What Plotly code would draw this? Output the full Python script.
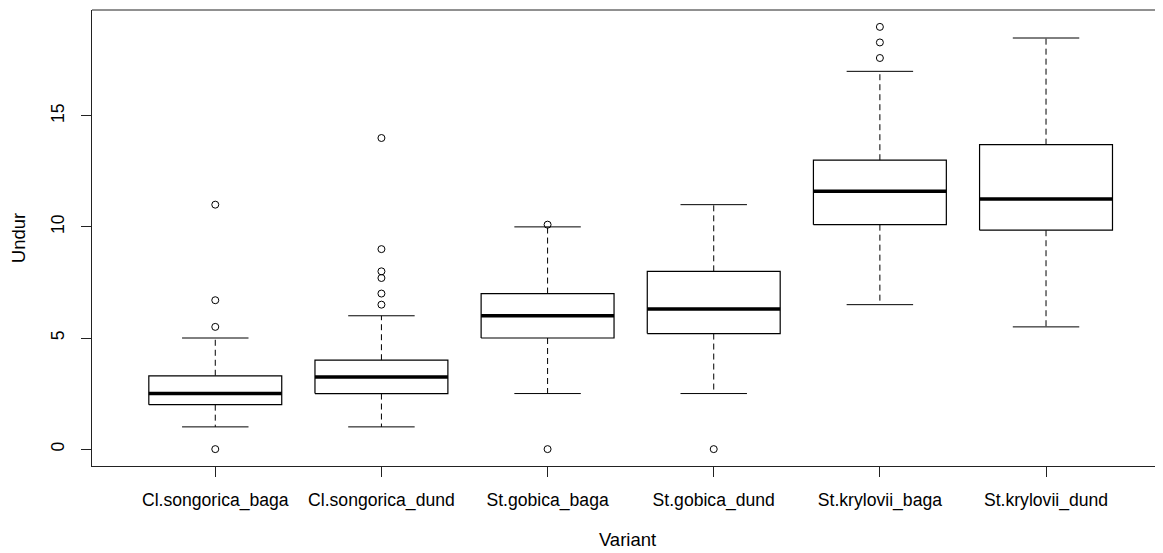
import plotly.graph_objects as go

categories = ["Cl.songorica_baga", "Cl.songorica_dund", "St.gobica_baga",
              "St.gobica_dund", "St.krylovii_baga", "St.krylovii_dund"]
lower_whisker = [1.0, 1.0, 2.5, 2.5, 6.5, 5.5]
q1 = [2.0, 2.5, 5.0, 5.2, 10.1, 9.85]
median = [2.5, 3.25, 6.0, 6.3, 11.6, 11.25]
q3 = [3.3, 4.0, 7.0, 8.0, 13.0, 13.7]
upper_whisker = [5.0, 6.0, 10.0, 11.0, 17.0, 18.5]
outliers = [[0.0, 5.5, 6.7, 11.0],
            [6.5, 7.0, 7.7, 8.0, 9.0, 14.0],
            [0.0, 10.1],
            [0.0],
            [17.6, 18.3, 19.0],
            []]
y_ticks = [0, 5, 10, 15]

positions = list(range(1, len(categories) + 1))
half_box = 0.4
half_staple = 0.2

box_x, box_y = [], []
med_x, med_y = [], []
wh_x, wh_y = [], []
st_x, st_y = [], []
out_x, out_y = [], []
for p, lo, a, m, b, hi, outs in zip(positions, lower_whisker, q1, median, q3,
                                    upper_whisker, outliers):
    box_x += [p - half_box, p + half_box, p + half_box, p - half_box, p - half_box, None]
    box_y += [a, a, b, b, a, None]
    med_x += [p - half_box, p + half_box, None]
    med_y += [m, m, None]
    wh_x += [p, p, None, p, p, None]
    wh_y += [b, hi, None, a, lo, None]
    st_x += [p - half_staple, p + half_staple, None, p - half_staple, p + half_staple, None]
    st_y += [hi, hi, None, lo, lo, None]
    out_x += [p] * len(outs)
    out_y += outs

fig = go.Figure()
fig.add_trace(go.Scatter(x=wh_x, y=wh_y, mode="lines",
                         line=dict(color="black", width=1, dash="6px,4px"),
                         hoverinfo="skip"))
fig.add_trace(go.Scatter(x=st_x, y=st_y, mode="lines",
                         line=dict(color="black", width=1), hoverinfo="skip"))
fig.add_trace(go.Scatter(x=box_x, y=box_y, mode="lines", fill="toself",
                         fillcolor="white", line=dict(color="black", width=1.2),
                         hoverinfo="skip"))
fig.add_trace(go.Scatter(x=med_x, y=med_y, mode="lines",
                         line=dict(color="black", width=3.5), hoverinfo="skip"))
fig.add_trace(go.Scatter(x=out_x, y=out_y, mode="markers",
                         marker=dict(symbol="circle-open", size=7,
                                     color="black", line=dict(width=1))))

axis_font = dict(family="Liberation Sans, Arial, sans-serif", color="black")

fig.update_layout(
    width=1155, height=545,
    margin=dict(l=84, r=0, t=2, b=87),
    paper_bgcolor="white", plot_bgcolor="white",
    showlegend=False,
    xaxis=dict(range=[0.258, 6.704], tickvals=positions, ticktext=categories,
               showgrid=False, zeroline=False, showline=True,
               linecolor="#222", linewidth=1,
               ticks="outside", ticklen=10, tickcolor="#222",
               tickfont=dict(size=17.6, **axis_font), ticklabelstandoff=8,
               title=dict(text="Variant", font=dict(size=18.5, **axis_font),
                          standoff=22)),
    yaxis=dict(range=[-0.76, 19.76], tickvals=y_ticks,
               showgrid=False, zeroline=False, showline=True,
               linecolor="#222", linewidth=1,
               ticks="outside", ticklen=10, tickcolor="#222",
               tickangle=-90,
               tickfont=dict(size=17.6, **axis_font), ticklabelstandoff=10,
               title=dict(text="Undur", font=dict(size=18.5, **axis_font),
                          standoff=22)),
    shapes=[dict(type="line", xref="paper", yref="paper", x0=0, x1=1,
                 y0=1, y1=1, line=dict(color="#222", width=1))],
)

fig.write_html("out.html")
